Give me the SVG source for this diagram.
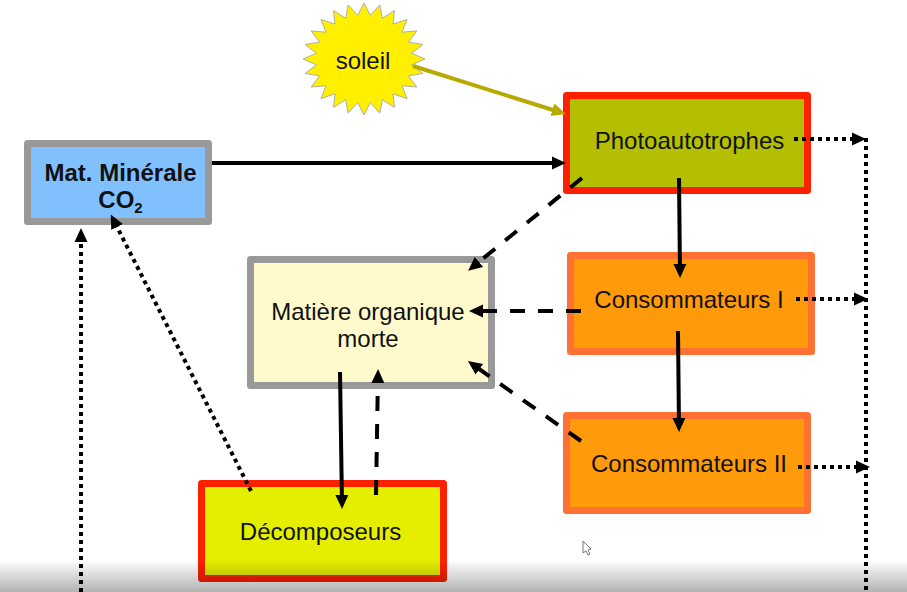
<svg xmlns="http://www.w3.org/2000/svg" width="907" height="592" viewBox="0 0 907 592">
<defs>
<marker id="ah" markerUnits="userSpaceOnUse" markerWidth="16" markerHeight="15" refX="9" refY="7" orient="auto"><path d="M0,0.5 L14,7 L0,13.5 Z" fill="#000"/></marker>
<marker id="ao" markerUnits="userSpaceOnUse" markerWidth="16" markerHeight="15" refX="9" refY="7" orient="auto"><path d="M0,0.5 L14,7 L0,13.5 Z" fill="#b8a900"/></marker>
<linearGradient id="shade" x1="0" y1="0" x2="0" y2="1"><stop offset="0" stop-color="#000" stop-opacity="0"/><stop offset="1" stop-color="#000" stop-opacity="0.3"/></linearGradient>
</defs>
<style>
text{font-family:"Liberation Sans",Arial,sans-serif;font-size:24px;fill:#111;text-anchor:middle}
.box{stroke-width:7;stroke-linejoin:round}
.c{fill:none;stroke:#000;marker-end:url(#ah)}
.solid{stroke-width:4}
.dash{stroke-width:4;stroke-dasharray:15 13}
.dot{stroke-width:4;stroke-dasharray:4 4}
</style>
<rect width="907" height="592" fill="#fff"/>
<g id="soleil"><polygon transform="translate(364 59)" fill="#fff000" stroke="#b0b0a0" stroke-width="1" points="61,0 47.6,5.8 58.9,14.5 44.3,16.8 52.8,28 38,26.8 43.1,39.6 29.1,34.9 30.5,48.5 18.4,40.7 15.8,54.1 6.3,43.6 0,56 -6.3,43.6 -15.8,54.1 -18.4,40.7 -30.5,48.5 -29.1,34.9 -43.1,39.6 -38,26.8 -52.8,28 -44.3,16.8 -58.9,14.5 -47.6,5.8 -61,0 -47.6,-5.8 -58.9,-14.5 -44.3,-16.8 -52.8,-28 -38,-26.8 -43.1,-39.6 -29.1,-34.9 -30.5,-48.5 -18.4,-40.7 -15.8,-54.1 -6.3,-43.6 0,-56 6.3,-43.6 15.8,-54.1 18.4,-40.7 30.5,-48.5 29.1,-34.9 43.1,-39.6 38,-26.8 52.8,-28 44.3,-16.8 58.9,-14.5 47.6,-5.8"/><text x="363" y="69">soleil</text></g>
<g id="mineral"><rect class="box" x="27.5" y="143.5" width="181" height="78" fill="#80c0ff" stroke="#999"/><text x="120.5" y="181" font-weight="bold">Mat. Minérale</text><text x="120.5" y="208" font-weight="bold">CO<tspan font-size="15" dy="5">2</tspan></text></g>
<g id="photo"><rect class="box" x="566.5" y="95.5" width="241" height="95" fill="#b3bf00" stroke="#ff2000"/><text x="689.5" y="149">Photoautotrophes</text></g>
<g id="cons1"><rect class="box" x="570.5" y="255.5" width="241" height="96" fill="#ff9a0a" stroke="#ff7033"/><text x="689" y="308">Consommateurs I</text></g>
<g id="cons2"><rect class="box" x="566.5" y="415.5" width="241" height="95" fill="#ff9a0a" stroke="#ff7033"/><text x="689" y="472">Consommateurs II</text></g>
<g id="matiere"><rect class="box" x="250.5" y="259.5" width="241" height="126" fill="#fff9cc" stroke="#999"/><text x="368" y="320">Matière organique</text><text x="368" y="347">morte</text></g>
<g id="decomp"><rect class="box" x="201.5" y="483.5" width="242" height="95" fill="#e6ee00" stroke="#ff2000"/><text x="320.5" y="540">Décomposeurs</text></g>
<g id="connectors">
<line x1="413" y1="66" x2="561" y2="112.5" fill="none" stroke="#b8a900" stroke-width="4" marker-end="url(#ao)"/>
<line class="c solid" x1="212" y1="163" x2="561" y2="163"/>
<line class="c dash" x1="582" y1="178" x2="472" y2="267.5"/>
<line class="c solid" x1="679" y1="178" x2="680" y2="273"/>
<line class="c dash" x1="581" y1="311" x2="474" y2="311"/>
<line class="c solid" x1="678" y1="331" x2="679" y2="427"/>
<line class="c dash" x1="581" y1="441" x2="472" y2="364"/>
<line class="c solid" x1="340" y1="372" x2="342" y2="504"/>
<line class="c dash" x1="376" y1="495" x2="378" y2="374"/>
<line class="c dot" x1="251" y1="491" x2="113" y2="219"/>
<line class="c dot" x1="81" y1="592" x2="81" y2="233"/>
<line x1="866" y1="138" x2="866" y2="592" fill="none" stroke="#000" stroke-width="4" stroke-dasharray="4 4"/>
<line class="c dot" x1="794" y1="139" x2="861" y2="139"/>
<line class="c dot" x1="796" y1="299" x2="863" y2="299"/>
<line class="c dot" x1="798" y1="467" x2="865" y2="467"/>
</g>
<polygon points="583,541 583,553 586,551 588,555 590,554 588,550 591,549" fill="#fff" stroke="#777" stroke-width="1"/>
<rect x="0" y="560" width="907" height="32" fill="url(#shade)"/>
</svg>
